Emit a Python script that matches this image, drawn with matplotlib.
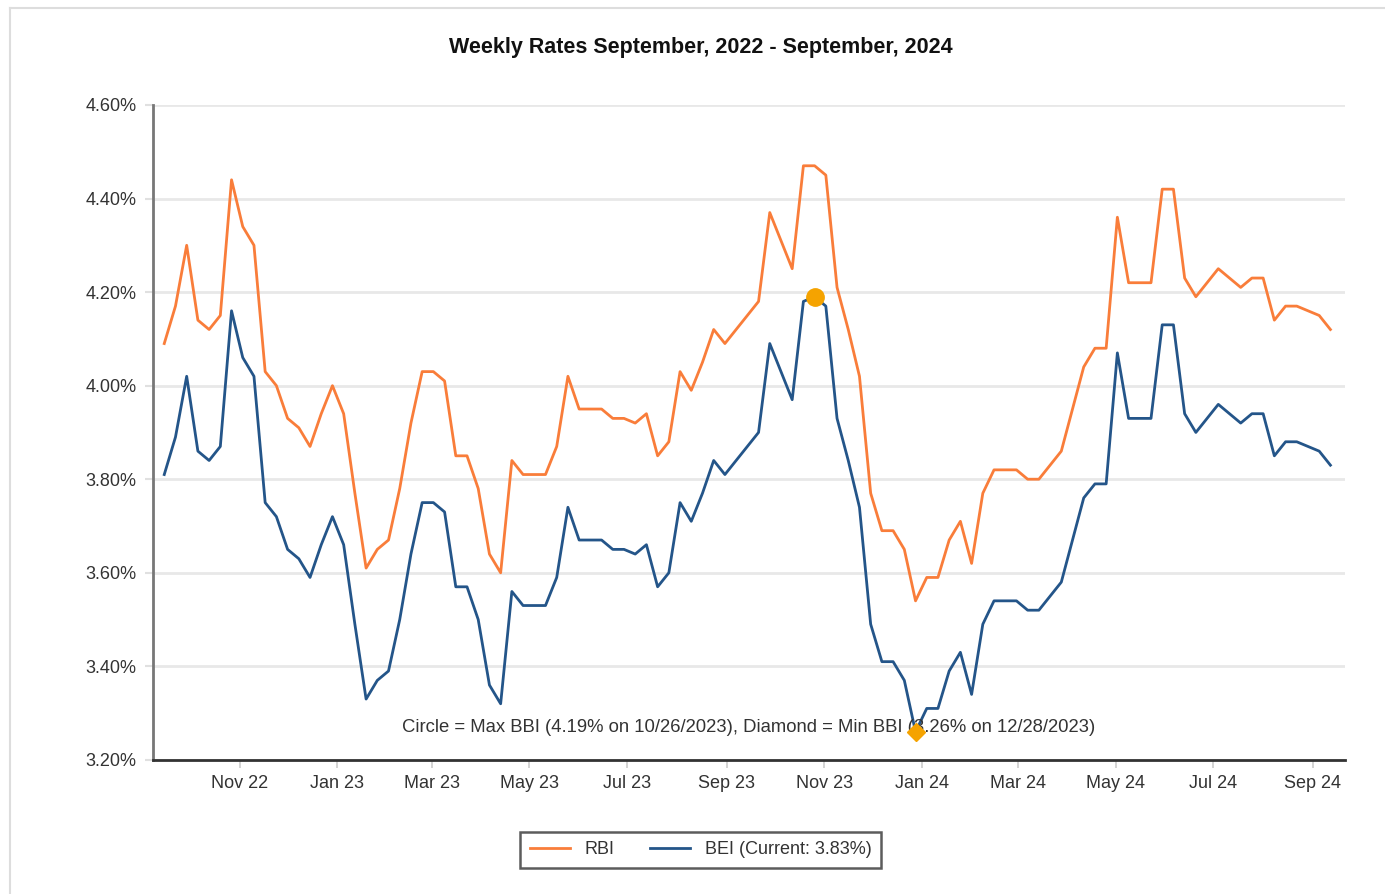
import numpy as np
import pandas as pd
import matplotlib
matplotlib.use('Agg')
import matplotlib.pyplot as plt
import matplotlib.dates as mdates
from matplotlib.lines import Line2D

plt.rcParams['font.family'] = ['Liberation Sans', 'DejaVu Sans']

# weekly dates (Thursdays), Sep 15 2022 .. Sep 12 2024
dates = pd.date_range('2022-09-15', periods=105, freq='7D')

rbi = [4.09, 4.17, 4.30, 4.14, 4.12, 4.15, 4.44, 4.34, 4.30, 4.03,
       4.00, 3.93, 3.91, 3.87, 3.94, 4.00, 3.94, 3.77, 3.61, 3.65,
       3.67, 3.78, 3.92, 4.03, 4.03, 4.01, 3.85, 3.85, 3.78, 3.64,
       3.60, 3.84, 3.81, 3.81, 3.81, 3.87, 4.02, 3.95, 3.95, 3.95,
       3.93, 3.93, 3.92, 3.94, 3.85, 3.88, 4.03, 3.99, 4.05, 4.12,
       4.09, 4.12, 4.15, 4.18, 4.37, 4.31, 4.25, 4.47, 4.47, 4.45,
       4.21, 4.12, 4.02, 3.77, 3.69, 3.69, 3.65, 3.54, 3.59, 3.59,
       3.67, 3.71, 3.62, 3.77, 3.82, 3.82, 3.82, 3.80, 3.80, 3.83,
       3.86, 3.95, 4.04, 4.08, 4.08, 4.36, 4.22, 4.22, 4.22, 4.42,
       4.42, 4.23, 4.19, 4.22, 4.25, 4.23, 4.21, 4.23, 4.23, 4.14,
       4.17, 4.17, 4.16, 4.15, 4.12]

bei = [3.81, 3.89, 4.02, 3.86, 3.84, 3.87, 4.16, 4.06, 4.02, 3.75,
       3.72, 3.65, 3.63, 3.59, 3.66, 3.72, 3.66, 3.49, 3.33, 3.37,
       3.39, 3.50, 3.64, 3.75, 3.75, 3.73, 3.57, 3.57, 3.50, 3.36,
       3.32, 3.56, 3.53, 3.53, 3.53, 3.59, 3.74, 3.67, 3.67, 3.67,
       3.65, 3.65, 3.64, 3.66, 3.57, 3.60, 3.75, 3.71, 3.77, 3.84,
       3.81, 3.84, 3.87, 3.90, 4.09, 4.03, 3.97, 4.18, 4.19, 4.17,
       3.93, 3.84, 3.74, 3.49, 3.41, 3.41, 3.37, 3.26, 3.31, 3.31,
       3.39, 3.43, 3.34, 3.49, 3.54, 3.54, 3.54, 3.52, 3.52, 3.55,
       3.58, 3.67, 3.76, 3.79, 3.79, 4.07, 3.93, 3.93, 3.93, 4.13,
       4.13, 3.94, 3.90, 3.93, 3.96, 3.94, 3.92, 3.94, 3.94, 3.85,
       3.88, 3.88, 3.87, 3.86, 3.83]

yticks = [3.20, 3.40, 3.60, 3.80, 4.00, 4.20, 4.40, 4.60]

rbi_color = '#F97D3A'
bei_color = '#245589'
mark_color = '#F5A300'

fig = plt.figure(figsize=(13.85, 8.94), dpi=100)
ax = fig.add_axes([0.1105, 0.150, 0.8605, 0.7326])

ax.plot(dates, rbi, color=rbi_color, lw=2.0, label='RBI')
ax.plot(dates, bei, color=bei_color, lw=2.0, label='BEI (Current: %.2f%%)' % bei[-1])

# max / min markers for the BEI series
i_max = int(np.argmax(bei))
i_min = int(np.argmin(bei))
ax.plot(dates[i_max], bei[i_max], 'o', color=mark_color, ms=12.5, zorder=5)

ax.text(0.5, 0.05,
        'Circle = Max BBI (%.2f%% on %s), Diamond = Min BBI (%.2f%% on %s)' % (
            bei[i_max], dates[i_max].strftime('%m/%d/%Y'),
            bei[i_min], dates[i_min].strftime('%m/%d/%Y')),
        transform=ax.transAxes, ha='center', va='center', fontsize=13.3, color='#333333')
ax.plot(dates[i_min], bei[i_min], 'D', color=mark_color, ms=9, zorder=5)

ax.set_xlim(pd.Timestamp('2022-09-08'), pd.Timestamp('2024-09-21'))
ax.set_ylim(3.20, 4.60)
ax.set_yticks(yticks)
ax.set_yticklabels(['%.2f%%' % v for v in yticks])
ax.xaxis.set_major_locator(mdates.MonthLocator(bymonth=[1, 3, 5, 7, 9, 11]))
ax.xaxis.set_major_formatter(mdates.DateFormatter('%b %y'))

ax.grid(axis='y', color='#e8e8e8', lw=2.0)
ax.set_axisbelow(True)
for s in ['top', 'right']:
    ax.spines[s].set_visible(False)
ax.spines['left'].set_color('#777777')
ax.spines['left'].set_linewidth(2.0)
ax.spines['bottom'].set_color('#333333')
ax.spines['bottom'].set_linewidth(2.0)
ax.tick_params(axis='y', length=6, width=1.5, color='#e0e0e0', labelsize=13, labelcolor='#333333', pad=6)
ax.tick_params(axis='x', length=6, width=1.2, color='#cccccc', labelsize=13, labelcolor='#333333', pad=5)

fig.text(0.506, 1 - 48 / 894, 'Weekly Rates September, 2022 - September, 2024',
         ha='center', va='center', fontsize=15.5, fontweight='bold', color='#111111')

leg = fig.legend(loc='center', bbox_to_anchor=(0.506, 1 - 850 / 894), ncol=2,
                 fontsize=13, frameon=True, fancybox=False, handlelength=2.2,
                 columnspacing=2.0, borderpad=0.55)
leg.get_frame().set_edgecolor('#333333')
leg.get_frame().set_linewidth(1.8)
for t in leg.get_texts():
    t.set_color('#333333')

# thin outer frame
fig.add_artist(Line2D([10 / 1385, 1.0], [1 - 8 / 894, 1 - 8 / 894], color='#dddddd', lw=1.5))
fig.add_artist(Line2D([10 / 1385, 10 / 1385], [0, 1 - 8 / 894], color='#dddddd', lw=1.5))

fig.savefig('out.png', dpi=100)
